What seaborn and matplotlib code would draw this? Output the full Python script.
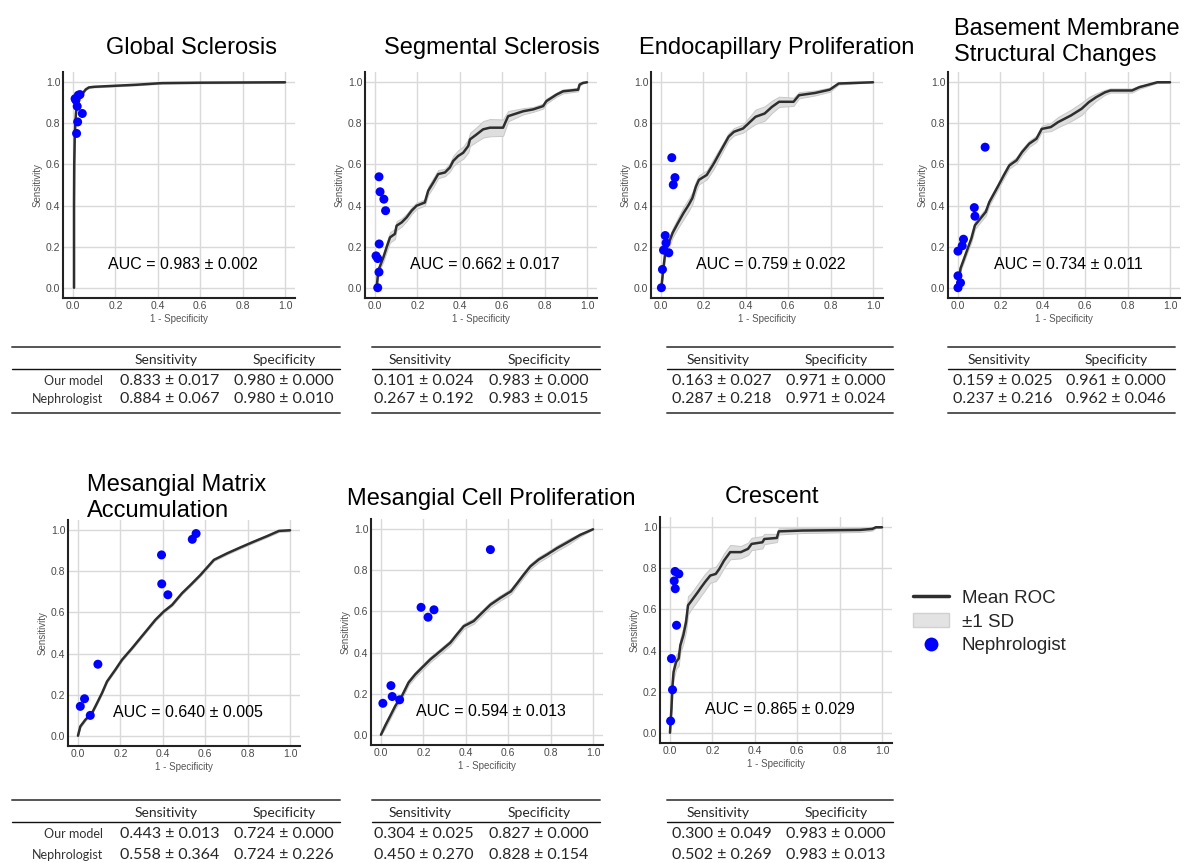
import numpy as np
import matplotlib
matplotlib.use("Agg")
import matplotlib.pyplot as plt
import seaborn as sns
from matplotlib.lines import Line2D
from matplotlib.patches import Patch

# ---- data ----
titles = ["Global Sclerosis", "Segmental Sclerosis", "Endocapillary Proliferation",
          "Basement Membrane\nStructural Changes", "Mesangial Matrix\nAccumulation",
          "Mesangial Cell Proliferation", "Crescent"]

auc_mean = [0.983, 0.662, 0.759, 0.734, 0.640, 0.594, 0.865]
auc_sd = [0.002, 0.017, 0.022, 0.011, 0.005, 0.013, 0.029]

# Global Sclerosis
gs_fpr = [0.005, 0.005, 0.006, 0.008, 0.011, 0.015, 0.022, 0.032, 0.045, 0.060, 0.075, 0.100, 0.200, 0.300, 0.420, 0.600, 1.000]
gs_tpr = [0.000, 0.400, 0.600, 0.720, 0.800, 0.860, 0.900, 0.925, 0.945, 0.965, 0.975, 0.978, 0.983, 0.988, 0.996, 0.998, 1.000]
gs_sd = [0.003] * 17
gs_nx = [0.014, 0.025, 0.033, 0.020, 0.022, 0.017, 0.044, 0.010]
gs_ny = [0.913, 0.937, 0.940, 0.883, 0.807, 0.751, 0.848, 0.920]

# Segmental Sclerosis
ss_fpr = [0.008, 0.016, 0.040, 0.055, 0.071, 0.094, 0.102, 0.126, 0.149, 0.173, 0.196, 0.235, 0.251, 0.275, 0.298,
          0.330, 0.353, 0.369, 0.392, 0.416, 0.440, 0.448, 0.479, 0.510, 0.542, 0.604, 0.628, 0.699, 0.746, 0.793,
          0.808, 0.856, 0.887, 0.958, 0.965, 0.981, 1.000]
ss_tpr = [0.003, 0.084, 0.149, 0.197, 0.245, 0.262, 0.302, 0.318, 0.342, 0.375, 0.399, 0.415, 0.472, 0.512, 0.553,
          0.561, 0.585, 0.617, 0.641, 0.657, 0.690, 0.722, 0.746, 0.771, 0.779, 0.779, 0.835, 0.859, 0.868, 0.884,
          0.908, 0.940, 0.956, 0.964, 0.989, 0.997, 1.000]
ss_sd = [0.005, 0.015, 0.020, 0.022, 0.025, 0.025, 0.022, 0.020, 0.018, 0.016, 0.015, 0.015, 0.020, 0.022, 0.020,
         0.018, 0.020, 0.025, 0.028, 0.030, 0.032, 0.032, 0.035, 0.040, 0.042, 0.040, 0.025, 0.015, 0.012, 0.012,
         0.012, 0.010, 0.010, 0.008, 0.005, 0.003, 0.000]
ss_nx = [0.019, 0.024, 0.042, 0.050, 0.020, 0.005, 0.013, 0.019, 0.013]
ss_ny = [0.540, 0.467, 0.431, 0.375, 0.213, 0.155, 0.142, 0.076, 0.000]

# Endocapillary Proliferation
ep_fpr = [0.002, 0.009, 0.020, 0.037, 0.055, 0.080, 0.106, 0.131, 0.148, 0.165, 0.179, 0.216, 0.250, 0.284, 0.319,
          0.344, 0.387, 0.421, 0.446, 0.489, 0.523, 0.557, 0.625, 0.651, 0.727, 0.796, 0.838, 0.915, 1.000]
ep_tpr = [0.000, 0.073, 0.170, 0.218, 0.267, 0.315, 0.363, 0.404, 0.436, 0.493, 0.525, 0.549, 0.606, 0.670, 0.735,
          0.759, 0.775, 0.808, 0.832, 0.848, 0.880, 0.905, 0.905, 0.937, 0.948, 0.964, 0.994, 0.997, 1.000]
ep_sd = [0.005, 0.015, 0.020, 0.022, 0.022, 0.025, 0.030, 0.030, 0.028, 0.025, 0.022, 0.022, 0.025, 0.020, 0.018,
         0.018, 0.020, 0.028, 0.035, 0.035, 0.030, 0.025, 0.020, 0.015, 0.012, 0.010, 0.005, 0.003, 0.000]
ep_nx = [0.051, 0.066, 0.058, 0.020, 0.024, 0.012, 0.037, 0.007, 0.002]
ep_ny = [0.633, 0.536, 0.501, 0.254, 0.218, 0.183, 0.170, 0.089, 0.000]

# Basement Membrane Structural Changes
bm_fpr = [0.000, 0.012, 0.029, 0.046, 0.063, 0.080, 0.106, 0.131, 0.148, 0.174, 0.191, 0.216, 0.242, 0.276, 0.302,
          0.336, 0.370, 0.395, 0.438, 0.472, 0.532, 0.583, 0.617, 0.651, 0.693, 0.719, 0.821, 0.855, 0.940, 1.000]
bm_tpr = [0.000, 0.094, 0.142, 0.191, 0.239, 0.304, 0.337, 0.369, 0.417, 0.466, 0.498, 0.547, 0.595, 0.620, 0.660,
          0.701, 0.725, 0.773, 0.782, 0.806, 0.838, 0.871, 0.903, 0.927, 0.951, 0.960, 0.960, 0.976, 1.000, 1.000]
bm_sd = [0.005, 0.012, 0.015, 0.015, 0.018, 0.018, 0.018, 0.018, 0.016, 0.015, 0.015, 0.015, 0.015, 0.015, 0.015,
         0.015, 0.015, 0.015, 0.020, 0.025, 0.028, 0.030, 0.025, 0.018, 0.012, 0.010, 0.010, 0.008, 0.003, 0.000]
bm_nx = [0.128, 0.077, 0.080, 0.026, 0.020, 0.000, 0.000, 0.012, 0.000]
bm_ny = [0.684, 0.390, 0.348, 0.236, 0.204, 0.178, 0.058, 0.024, 0.000]

# Mesangial Matrix Accumulation
mm_fpr = [0.000, 0.011, 0.035, 0.066, 0.090, 0.113, 0.137, 0.176, 0.208, 0.255, 0.294, 0.326, 0.365, 0.405, 0.444,
          0.491, 0.531, 0.578, 0.641, 0.704, 0.767, 0.830, 0.893, 0.948, 1.000]
mm_tpr = [0.000, 0.045, 0.078, 0.110, 0.159, 0.207, 0.264, 0.321, 0.370, 0.426, 0.475, 0.515, 0.564, 0.605, 0.637,
          0.694, 0.734, 0.783, 0.856, 0.888, 0.917, 0.945, 0.972, 0.997, 1.000]
mm_sd = [0.005] * 25
mm_nx = [0.557, 0.539, 0.394, 0.395, 0.424, 0.094, 0.031, 0.011, 0.058]
mm_ny = [0.984, 0.956, 0.880, 0.739, 0.686, 0.348, 0.180, 0.143, 0.099]

# Mesangial Cell Proliferation
mc_fpr = [0.000, 0.020, 0.044, 0.068, 0.099, 0.130, 0.162, 0.193, 0.233, 0.280, 0.327, 0.358, 0.390, 0.437, 0.476,
          0.516, 0.563, 0.613, 0.643, 0.673, 0.704, 0.744, 0.783, 0.830, 0.885, 0.940, 1.000]
mc_tpr = [0.000, 0.044, 0.092, 0.141, 0.189, 0.254, 0.294, 0.326, 0.367, 0.407, 0.448, 0.488, 0.528, 0.553, 0.593,
          0.633, 0.666, 0.698, 0.738, 0.779, 0.819, 0.853, 0.877, 0.908, 0.940, 0.973, 1.000]
mc_sd = [0.005] + [0.013] * 24 + [0.008, 0.000]
mc_nx = [0.516, 0.189, 0.222, 0.250, 0.047, 0.053, 0.088, 0.009]
mc_ny = [0.901, 0.620, 0.572, 0.608, 0.239, 0.186, 0.170, 0.153]

# Crescent
cr_fpr = [0.000, 0.007, 0.012, 0.017, 0.029, 0.041, 0.049, 0.063, 0.076, 0.085, 0.097, 0.114, 0.131, 0.148, 0.165,
          0.190, 0.216, 0.233, 0.255, 0.284, 0.334, 0.368, 0.385, 0.436, 0.445, 0.504, 0.513, 0.623, 0.895, 0.954,
          0.971, 1.000]
cr_tpr = [0.000, 0.118, 0.231, 0.296, 0.345, 0.361, 0.426, 0.474, 0.539, 0.620, 0.636, 0.660, 0.684, 0.709, 0.733,
          0.765, 0.773, 0.798, 0.838, 0.879, 0.879, 0.895, 0.919, 0.927, 0.943, 0.948, 0.980, 0.984, 0.987, 0.992,
          1.000, 1.000]
cr_sd = [0.005, 0.020, 0.030, 0.035, 0.035, 0.035, 0.035, 0.040, 0.045, 0.045, 0.040, 0.040, 0.040, 0.040, 0.040,
         0.035, 0.035, 0.035, 0.035, 0.035, 0.030, 0.030, 0.030, 0.030, 0.025, 0.020, 0.015, 0.012, 0.010, 0.008,
         0.003, 0.000]
cr_nx = [0.024, 0.042, 0.020, 0.025, 0.031, 0.007, 0.012, 0.003]
cr_ny = [0.785, 0.773, 0.739, 0.701, 0.523, 0.361, 0.209, 0.057]

roc_fpr = [gs_fpr, ss_fpr, ep_fpr, bm_fpr, mm_fpr, mc_fpr, cr_fpr]
roc_tpr = [gs_tpr, ss_tpr, ep_tpr, bm_tpr, mm_tpr, mc_tpr, cr_tpr]
roc_sd = [gs_sd, ss_sd, ep_sd, bm_sd, mm_sd, mc_sd, cr_sd]
neph_x = [gs_nx, ss_nx, ep_nx, bm_nx, mm_nx, mc_nx, cr_nx]
neph_y = [gs_ny, ss_ny, ep_ny, bm_ny, mm_ny, mc_ny, cr_ny]

# table values (mean, sd)
model_sens_m = [0.833, 0.101, 0.163, 0.159, 0.443, 0.304, 0.300]
model_sens_s = [0.017, 0.024, 0.027, 0.025, 0.013, 0.025, 0.049]
model_spec_m = [0.980, 0.983, 0.971, 0.961, 0.724, 0.827, 0.983]
model_spec_s = [0.000, 0.000, 0.000, 0.000, 0.000, 0.000, 0.000]
neph_sens_m = [0.884, 0.267, 0.287, 0.237, 0.558, 0.450, 0.502]
neph_sens_s = [0.067, 0.192, 0.218, 0.216, 0.364, 0.270, 0.269]
neph_spec_m = [0.980, 0.983, 0.971, 0.962, 0.724, 0.828, 0.983]
neph_spec_s = [0.010, 0.015, 0.024, 0.046, 0.226, 0.154, 0.013]
row_names = ["Our model", "Nephrologist"]
col_names = ["Sensitivity", "Specificity"]

# ---- layout (pixels) ----
W, H = 1185, 863
AX_W, AX_H = 232, 226
panel_left = [63, 365, 651, 948, 68, 371, 660]
panel_top = [72, 72, 72, 72, 520, 519, 517]
title_x = [191, 492, 777, 954, 87, 491, 772]
title_y = [48, 48, 48, 42, 498, 499, 497]
title_ha = ["center", "center", "center", "left", "left", "center", "center"]

table_left = [12, 372, 667, 948, 12, 372, 667]
table_right = [340, 600, 893, 1175, 340, 600, 893]
sens_x = [170, 424, 722, 1003, 170, 424, 722]
spec_x = [284, 539, 836, 1116, 284, 539, 836]
table_top = [347, 347, 347, 347, 800, 800, 800]
row_gap = [18, 18, 18, 18, 21, 21, 21]
label_right = 103

sns.set_theme(style="whitegrid")
plt.rcParams["font.family"] = ["Liberation Sans", "DejaVu Sans"]

fig = plt.figure(figsize=(W / 100, H / 100), dpi=100)


def fx(x):
    return x / W


def fy(y):
    return 1 - y / H


ticks = [0.0, 0.2, 0.4, 0.6, 0.8, 1.0]
for i in range(7):
    ax = fig.add_axes([fx(panel_left[i]), fy(panel_top[i] + AX_H), AX_W / W, AX_H / H])
    fpr = np.array(roc_fpr[i])
    tpr = np.array(roc_tpr[i])
    sd = np.array(roc_sd[i])
    ax.fill_between(fpr, np.clip(tpr - sd, 0, 1), np.clip(tpr + sd, 0, 1),
                    color="#dedede", edgecolor="#c8c8c8", lw=0.7, zorder=2)
    sns.lineplot(x=fpr, y=tpr, ax=ax, color="#2e2e2e", lw=1.8, sort=False, estimator=None, zorder=3)
    sns.scatterplot(x=neph_x[i], y=neph_y[i], ax=ax, color="#0000ff", s=42, edgecolor="none",
                    zorder=4, legend=False)
    ax.text(0.52, 0.115, f"AUC = {auc_mean[i]:.3f} ± {auc_sd[i]:.3f}", ha="center", va="center",
            fontsize=11.5, color="black", zorder=5)

    ax.set_xlim(-0.047, 1.047)
    ax.set_ylim(-0.05, 1.05)
    ax.set_xticks(ticks)
    ax.set_yticks(ticks)
    ax.set_xticklabels([f"{t:.1f}" for t in ticks])
    ax.set_yticklabels([f"{t:.1f}" for t in ticks])
    ax.tick_params(length=0, pad=2, labelsize=7.5, labelcolor="#4a4a4a")
    ax.grid(True, color="#d9d9d9", lw=1.0)
    ax.set_xlabel("1 - Specificity", fontsize=7, color="#555555", labelpad=2)
    ax.set_ylabel("Sensitivity", fontsize=7, color="#555555", labelpad=2)
    for s in ["top", "right"]:
        ax.spines[s].set_visible(False)
    for s in ["left", "bottom"]:
        ax.spines[s].set_color("#222222")
        ax.spines[s].set_linewidth(1.5)

    fig.text(fx(title_x[i]), fy(title_y[i]), titles[i], ha=title_ha[i], va="center",
             fontsize=17, color="black", linespacing=1.2)

    # summary table under the panel
    l, r, t = table_left[i], table_right[i], table_top[i]
    tfont = ["Lato", "DejaVu Sans"]
    fig.add_artist(Line2D([fx(l), fx(r)], [fy(t), fy(t)], color="#555555", lw=1.4))
    fig.add_artist(Line2D([fx(l), fx(r)], [fy(t + 22), fy(t + 22)], color="#111111", lw=1.0))
    fig.add_artist(Line2D([fx(l), fx(r)], [fy(t + 66), fy(t + 66)], color="#555555", lw=1.4))
    fig.text(fx(sens_x[i] - 4), fy(t + 13), col_names[0], ha="center", va="center", fontsize=10, family=tfont)
    fig.text(fx(spec_x[i]), fy(t + 13), col_names[1], ha="center", va="center", fontsize=10, family=tfont)
    rows = [(model_sens_m[i], model_sens_s[i], model_spec_m[i], model_spec_s[i]),
            (neph_sens_m[i], neph_sens_s[i], neph_spec_m[i], neph_spec_s[i])]
    for j, (sm, ssd, pm, psd) in enumerate(rows):
        yy = fy(t + 34 + row_gap[i] * j)
        fig.text(fx(sens_x[i]), yy, f"{sm:.3f} ± {ssd:.3f}", ha="center", va="center", fontsize=11.5, family=tfont)
        fig.text(fx(spec_x[i]), yy, f"{pm:.3f} ± {psd:.3f}", ha="center", va="center", fontsize=11.5, family=tfont)
        if i in (0, 4):
            fig.text(fx(label_right), yy, row_names[j], ha="right", va="center", fontsize=9,
                     color="#333333", family=tfont)

handles = [Line2D([0], [0], color="#2e2e2e", lw=2.5),
           Patch(facecolor="#e3e3e3", edgecolor="#d0d0d0"),
           Line2D([0], [0], marker="o", color="none", markerfacecolor="#0000ff", markeredgecolor="none",
                  markersize=10)]
fig.legend(handles, ["Mean ROC", "±1 SD", "Nephrologist"], loc="center left",
           bbox_to_anchor=(fx(913), fy(622)), frameon=False, fontsize=13.5, handlelength=1.9,
           handletextpad=0.7, labelspacing=0.35, borderpad=0, borderaxespad=0)

fig.savefig("out.png", dpi=100)
